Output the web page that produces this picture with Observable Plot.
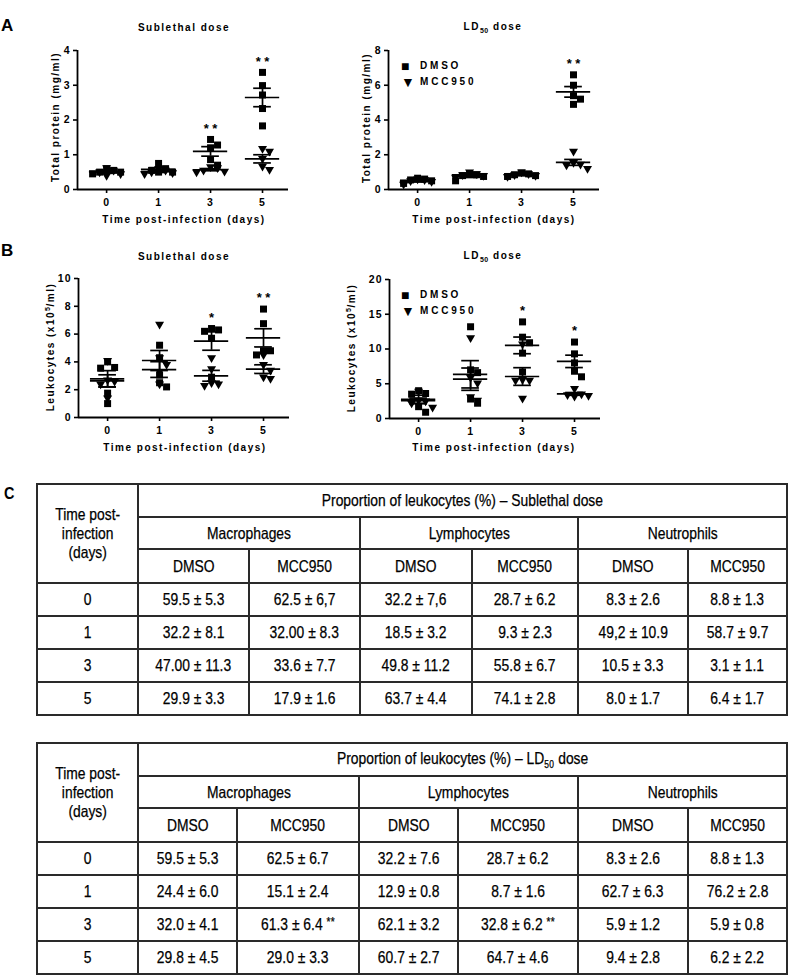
<!DOCTYPE html>
<html><head><meta charset="utf-8">
<script src="https://cdn.jsdelivr.net/npm/d3@7"></script>
<script src="https://cdn.jsdelivr.net/npm/@observablehq/plot@0.6"></script>
<style>
body{margin:0;background:#fff;}
#fig{position:relative;width:788px;height:975px;overflow:hidden;font-family:"Liberation Sans",Arial,sans-serif;color:#000;}
.abs{position:absolute;white-space:nowrap;}
.panel{font-weight:bold;font-size:17px;line-height:1;}
.ptitle,.xlab,.ylab,.leg{font-weight:bold;font-size:10px;letter-spacing:1.5px;line-height:1;}
.ptitle,.xlab{transform:translate(-50%,-50%);}
.ylab{transform:translate(-50%,-50%) rotate(-90deg);}
.leg{letter-spacing:2.8px;}
.leg .sym{display:inline-block;width:19px;letter-spacing:0;font-size:14px;vertical-align:-2px;}
sub,sup{font-size:7px;letter-spacing:0.5px;}
.plot{position:absolute;}
table{position:absolute;left:36px;border-collapse:collapse;table-layout:fixed;font-family:"Liberation Sans",Arial,sans-serif;font-size:16.5px;color:#000;}
td{border:2px solid #2a2a2a;text-align:center;vertical-align:middle;padding:0;white-space:nowrap;}
td span{display:inline-block;transform:scaleX(0.84);-webkit-text-stroke:0.25px #000;line-height:1.15;}
td sup{font-size:12px;vertical-align:4px;}
td sub{font-size:10px;}
</style></head>
<body><div id="fig"></div>
<script>
// ---------- data ----------
const dayLabels = ["0", "1", "3", "5"];
const seriesNames = ["DMSO", "MCC950"];

// Panel A: total protein (mg/ml); one array of 5 mice per day
const protSubDMSO = [[0.55, 0.6, 0.5, 0.45, 0.5], [0.55, 0.75, 0.5, 0.6, 0.5], [1.28, 1.2, 1.44, 0.86, 0.7], [3.37, 2.99, 2.72, 2.33, 1.83]];
const protSubMCC = [[0.62, 0.4, 0.45, 0.5, 0.55], [0.5, 0.45, 0.6, 0.55, 0.48], [0.62, 0.52, 0.5, 0.55, 0.65], [1.18, 1.1, 0.89, 0.57, 0.67]];
const protLDDMSO = [[0.6, 0.55, 0.35, 0.5, 0.65], [0.9, 0.5, 0.8, 0.75, 0.85], [0.9, 0.8, 0.85, 0.95, 0.75], [6.6, 6.0, 5.4, 5.2, 4.9]];
const protLDMCC = [[0.3, 0.5, 0.45, 0.55, 0.6], [0.9, 1.0, 0.8, 0.7, 0.85], [0.8, 0.9, 1.0, 0.75, 0.85], [2.2, 1.45, 1.2, 1.4, 1.55]];
// Panel B: leukocytes (x10^5/ml)
const leukSubDMSO = [[4.0, 3.55, 3.6, 1.75, 1.0], [4.3, 5.2, 2.5, 2.2, 3.05], [6.3, 5.7, 6.2, 6.4, 2.9], [7.8, 6.75, 4.8, 4.8, 4.5]];
const leukSubMCC = [[4.1, 2.6, 2.4, 2.7, 1.4], [6.7, 3.8, 4.3, 3.3, 2.4], [4.3, 3.5, 2.5, 2.3, 2.4], [4.5, 3.8, 3.4, 2.8, 2.9]];
const leukLDDMSO = [[4.0, 3.6, 3.5, 1.7, 0.9], [13.2, 7.0, 6.6, 2.8, 2.2], [13.9, 11.7, 10.9, 9.4, 6.7], [11.0, 9.3, 8.0, 6.8, 6.0]];
const leukLDMCC = [[3.9, 2.6, 2.2, 1.6, 2.5], [11.6, 5.9, 5.1, 2.6, 3.1], [10.7, 5.5, 5.5, 5.6, 2.9], [4.3, 3.5, 3.3, 3.2, 3.4]];

const starsProtSub = ["", "", "**", "**"];
const starsProtLD = ["", "", "", "**"];
const starsLeukSub = ["", "", "*", "**"];
const starsLeukLD = ["", "", "*", "*"];

const ticksProtSub = [0, 1, 2, 3, 4];
const ticksProtLD = [0, 2, 4, 6, 8];
const ticksLeukSub = [0, 2, 4, 6, 8, 10];
const ticksLeukLD = [0, 5, 10, 15, 20];

// Panel C tables
const tableDays = ["0", "1", "3", "5"];
const cellTypes = ["Macrophages", "Lymphocytes", "Neutrophils"];
const tableSub = [
  ["59.5 ± 5.3", "62.5 ± 6,7", "32.2 ± 7,6", "28.7 ± 6.2", "8.3 ± 2.6", "8.8 ± 1.3"],
  ["32.2 ± 8.1", "32.00 ± 8.3", "18.5 ± 3.2", "9.3 ± 2.3", "49,2 ± 10.9", "58.7 ± 9.7"],
  ["47.00 ± 11.3", "33.6 ± 7.7", "49.8 ± 11.2", "55.8 ± 6.7", "10.5 ± 3.3", "3.1 ± 1.1"],
  ["29.9 ± 3.3", "17.9 ± 1.6", "63.7 ± 4.4", "74.1 ± 2.8", "8.0 ± 1.7", "6.4 ± 1.7"]
];
const tableLD = [
  ["59.5 ± 5.3", "62.5 ± 6.7", "32.2 ± 7.6", "28.7 ± 6.2", "8.3 ± 2.6", "8.8 ± 1.3"],
  ["24.4 ± 6.0", "15.1 ± 2.4", "12.9 ± 0.8", "8.7 ± 1.6", "62.7 ± 6.3", "76.2 ± 2.8"],
  ["32.0 ± 4.1", "61.3 ± 6.4 <sup>**</sup>", "62.1 ± 3.2", "32.8 ± 6.2 <sup>**</sup>", "5.9 ± 1.2", "5.9 ± 0.8"],
  ["29.8 ± 4.5", "29.0 ± 3.3", "60.7 ± 2.7", "64.7 ± 4.6", "9.4 ± 2.8", "6.2 ± 2.2"]
];

// ---------- drawing ----------
const fig = document.getElementById("fig");
function add(html, cls, left, top) {
  const d = document.createElement("div");
  d.className = "abs " + cls; d.style.left = left + "px"; d.style.top = top + "px";
  d.innerHTML = html; fig.appendChild(d); return d;
}

const triDown = {
  draw(ctx, size) {
    const s = Math.sqrt(size), w = 1.3 * s, h = 1.12 * s;
    ctx.moveTo(-w / 2, -h / 3); ctx.lineTo(w / 2, -h / 3); ctx.lineTo(0, 2 * h / 3); ctx.closePath();
  }
};

function scatter({dmso, mcc, ymax, yticks, stars, left, top}) {
  const W = 310, H = 230, mt = 50, mb = 41, ml = 77, mr = 22;
  const xdom = [-0.56, 3.5];
  const step = (W - ml - mr) / (xdom[1] - xdom[0]);
  const ypx = (H - mt - mb) / ymax;
  // simple beeswarm spread so that markers of one series do not overlap
  function swarm(vals, di, g) {
    const placed = [];
    const order = vals.map((v, i) => i).sort((a, b) => vals[b] - vals[a]);
    const d = 7, cand = [0, d, -d, 2 * d, -2 * d, 3 * d, -3 * d];
    for (const i of order) {
      const py = vals[i] * ypx;
      let off = 0;
      for (const c of cand) {
        if (placed.every(p => Math.abs(p.py - py) >= 7 || Math.abs(p.px - c) >= 7)) { off = c; break; }
      }
      placed.push({px: off, py, x: di + off / step, y: vals[i], g});
    }
    return placed;
  }
  const ptsD = dmso.flatMap((v, i) => swarm(v, i, "DMSO"));
  const ptsM = mcc.flatMap((v, i) => swarm(v, i, "MCC950"));
  const stats = [];
  [dmso, mcc].forEach(ser => ser.forEach((v, i) => {
    const m = d3.mean(v), se = d3.deviation(v) / Math.sqrt(v.length);
    stats.push({i, m, lo: m - se, hi: m + se});
  }));
  const starData = stars.map((s, i) => ({i, s, y: Math.max(d3.max(dmso[i]), d3.max(mcc[i]))})).filter(d => d.s);
  const p = Plot.plot({
    width: W, height: H, marginTop: mt, marginBottom: mb, marginLeft: ml, marginRight: mr,
    x: {domain: xdom, axis: null},
    y: {domain: [0, ymax], axis: null},
    style: {fontFamily: "Liberation Sans, Arial, sans-serif", fontSize: "10.5px", fontWeight: "bold", letterSpacing: "1px", color: "#000", background: "transparent", overflow: "visible"},
    marks: [
      Plot.ruleY(stats, {x1: d => d.i - 0.33, x2: d => d.i + 0.33, y: "m", strokeWidth: 1.7}),
      Plot.ruleY(stats, {x1: d => d.i - 0.17, x2: d => d.i + 0.17, y: "lo", strokeWidth: 1.7}),
      Plot.ruleY(stats, {x1: d => d.i - 0.17, x2: d => d.i + 0.17, y: "hi", strokeWidth: 1.7}),
      Plot.ruleX(stats, {x: "i", y1: "lo", y2: "hi", strokeWidth: 1.7}),
      Plot.dot(ptsD, {x: "x", y: "y", symbol: "square", r: 3.95, fill: "#000", stroke: null}),
      Plot.dot(ptsM, {x: "x", y: "y", symbol: triDown, r: 3.9, fill: "#000", stroke: null}),
      Plot.text(starData, {x: "i", y: "y", text: "s", dy: -11, fontSize: 13}),
      Plot.ruleY([0], {strokeWidth: 1.8}),
      Plot.ruleX([xdom[0]], {y1: 0, y2: ymax, strokeWidth: 1.8}),
      Plot.axisY({ticks: yticks, tickFormat: d => String(d), tickSize: 4, tickPadding: 3, label: null, strokeWidth: 1.6, anchor: "left"}),
      Plot.axisX({ticks: [0, 1, 2, 3], tickFormat: i => dayLabels[i], tickSize: 4, tickPadding: 5, label: null, strokeWidth: 1.6, anchor: "bottom"})
    ]
  });
  d3.select(p).selectAll("text").filter(function () { return this.textContent.includes("*"); })
    .attr("letter-spacing", "3.5px").attr("dx", 1.75);
  p.classList.add("plot");
  p.style.left = left + "px"; p.style.top = top + "px";
  fig.appendChild(p);
}

scatter({dmso: protSubDMSO, mcc: protSubMCC, ymax: 4, yticks: ticksProtSub, stars: starsProtSub, left: 0, top: 0});
scatter({dmso: protLDDMSO, mcc: protLDMCC, ymax: 8, yticks: ticksProtLD, stars: starsProtLD, left: 311, top: 0});
scatter({dmso: leukSubDMSO, mcc: leukSubMCC, ymax: 10, yticks: ticksLeukSub, stars: starsLeukSub, left: 1, top: 228});
scatter({dmso: leukLDDMSO, mcc: leukLDMCC, ymax: 20, yticks: ticksLeukLD, stars: starsLeukLD, left: 312, top: 229});

// panel letters
add("A", "panel", 1, 17);
add("B", "panel", 1, 242);
const c = add("C", "panel", 3, 485); c.style.transform = "scaleX(0.85)";

// titles & axis labels
const ld50 = "LD<sub>50</sub> dose";
add("Sublethal dose", "ptitle", 184, 28);
add(ld50, "ptitle", 493, 28);
add("Sublethal dose", "ptitle", 184, 257);
add(ld50, "ptitle", 493, 257);
add("Time post-infection (days)", "xlab", 184, 220);
add("Time post-infection (days)", "xlab", 494, 220);
add("Time post-infection (days)", "xlab", 185, 448);
add("Time post-infection (days)", "xlab", 494, 448);
add("Total protein (mg/ml)", "ylab", 56, 117);
add("Total protein (mg/ml)", "ylab", 367, 118);
add("Leukocytes (x10<sup>5</sup>/ml)", "ylab", 50, 347);
add("Leukocytes (x10<sup>5</sup>/ml)", "ylab", 351, 348);

// legends
function legend(left, top) {
  add(`<span class="sym">■</span>${seriesNames[0]}`, "leg", left, top);
  add(`<span class="sym">▼</span>${seriesNames[1]}`, "leg", left, top + 16);
}
legend(401, 59);
legend(401, 288);

// tables
function table(title, rows, top, widths) {
  const t = document.createElement("table");
  t.style.top = top + "px";
  const s = v => `<span>${v}</span>`;
  let h = "<colgroup>" + widths.map(w => `<col style="width:${w}px">`).join("") + "</colgroup>";
  h += `<tr style="height:33px"><td rowspan="3">${s("Time post-<br>infection<br>(days)")}</td><td colspan="6">${s(title)}</td></tr>`;
  h += `<tr style="height:32px">` + cellTypes.map(c => `<td colspan="2">${s(c)}</td>`).join("") + "</tr>";
  h += `<tr style="height:34px">` + cellTypes.map(() => `<td>${s(seriesNames[0])}</td><td>${s(seriesNames[1])}</td>`).join("") + "</tr>";
  rows.forEach((r, i) => {
    h += `<tr style="height:33px"><td>${s(tableDays[i])}</td>` + r.map(v => `<td>${s(v)}</td>`).join("") + "</tr>";
  });
  t.innerHTML = h;
  fig.appendChild(t);
}
table("Proportion of leukocytes (%) – Sublethal dose", tableSub, 483, [101, 111, 111, 112, 106, 110, 99]);
table("Proportion of leukocytes (%) – LD<sub>50</sub> dose", tableLD, 742, [101, 99, 122, 99, 120, 110, 99]);
</script></body></html>
